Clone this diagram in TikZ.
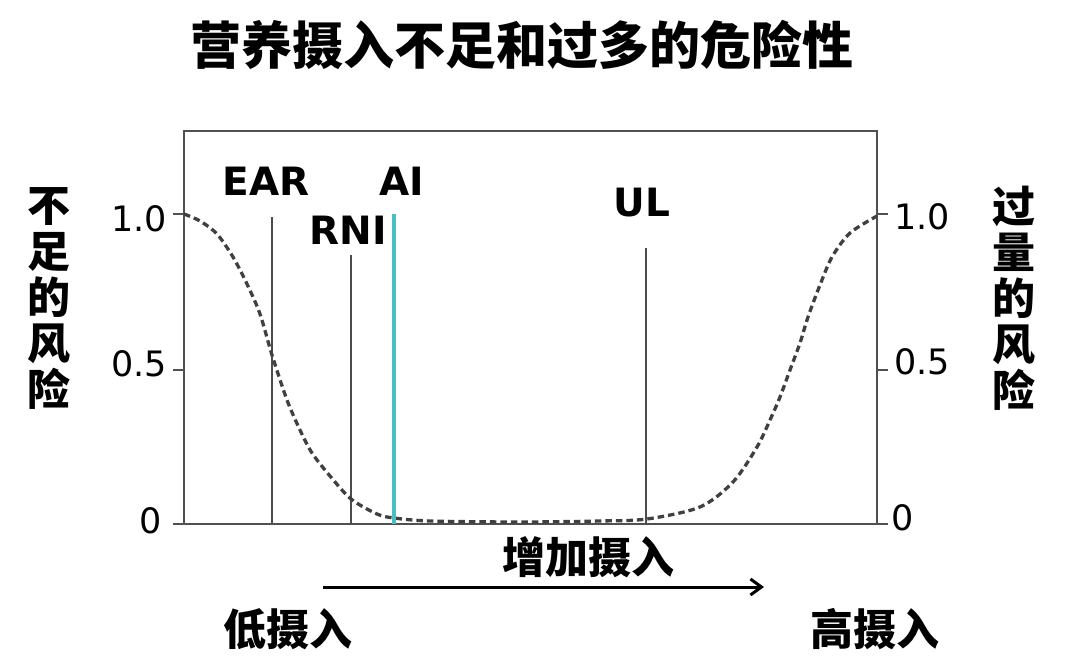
\documentclass[tikz,border=0pt]{standalone}
\usepackage{fontspec}
\setmainfont{DejaVu Sans}
\newfontfamily\cjk{Noto Sans CJK SC}
\usetikzlibrary{arrows.meta}
\definecolor{axisgray}{HTML}{505050}
\definecolor{aiteal}{HTML}{4BBFC0}
\tikzset{
  frame/.style={draw=axisgray, line width=2.6pt},
  tickline/.style={draw=axisgray, line width=2.6pt},
  marker/.style={draw=black!70, line width=2.5pt},
  riskcurve/.style={draw=black!75, line width=3.3pt, dash pattern=on 6.5pt off 4pt},
  ticklab/.style={inner sep=0pt, font=\fontsize{35}{35}\selectfont},
  marklab/.style={inner sep=0pt, font=\fontsize{39}{39}\selectfont\bfseries},
  cjklab/.style={inner sep=0pt, font=\fontsize{43}{43}\selectfont\cjk\bfseries},
  sidelab/.style={inner sep=0pt, align=center, font=\fontsize{43}{46}\selectfont\cjk\bfseries},
}
\begin{document}
\begin{tikzpicture}[x=1pt, y=-1pt]
\useasboundingbox (0,0) rectangle (1074,658);
\fill[white] (0,0) rectangle (1074,658);
% title
\node[inner sep=0pt, font=\fontsize{51}{51}\selectfont\cjk\bfseries] (title) at (522,45) {营养摄入不足和过多的危险性};
% frame
\draw[frame] (184,131) rectangle (877,524);
% ticks left
\draw[tickline] (173,214) -- (184,214);
\draw[tickline] (173,370) -- (184,370);
\draw[tickline] (173,524) -- (184,524);
% ticks right
\draw[tickline] (877,214) -- (888,214);
\draw[tickline] (877,370) -- (888,370);
\draw[tickline] (877,524) -- (888,524);
% tick labels
\node[ticklab] (l10) at (139,219) {1.0};
\node[ticklab] (l05) at (139,364) {0.5};
\node[ticklab] (l00) at (151,521) {0};
\node[ticklab] (r10) at (922,217) {1.0};
\node[ticklab] (r05) at (922,362) {0.5};
\node[ticklab] (r00) at (903,518) {0};
% side labels
\node[sidelab] (leftlab) at (49,298) {不\\足\\的\\风\\险};
\node[sidelab] (rightlab) at (1014,298) {过\\量\\的\\风\\险};
% marker lines
\coordinate (earT) at (272,217); \coordinate (earB) at (272,524);
\coordinate (rniT) at (351,255); \coordinate (rniB) at (351,524);
\coordinate (aiT) at (394,214); \coordinate (aiB) at (394,524);
\coordinate (ulT) at (646,248); \coordinate (ulB) at (646,524);
\draw[marker] (earT) -- (earB);
\draw[marker] (rniT) -- (rniB);
\draw[marker] (ulT) -- (ulB);
% risk curve
\draw[riskcurve] plot[smooth, tension=0.5] coordinates {
 (184,214) (200,221) (217,234) (233,257) (247,284) (260,314) (272,355) (287,400) (300,430) (312,453)
 (330,476) (351,499) (377,514) (394,518) (430,521) (520,522) (600,521) (647,519) (700,507)
 (733,482) (757,447) (770,420) (780,397) (790,370) (800,343) (808,317) (820,285) (832,257)
 (850,233) (877,216)};
\draw[aiteal, line width=3.3pt] (aiT) -- (aiB);
% marker labels
\node[marklab] (ear) at (266,181) {EAR};
\node[marklab] (rni) at (348,230) {RNI};
\node[marklab] (ai) at (402,181) {AI};
\node[marklab] (ul) at (642,203) {UL};
% bottom
\node[cjklab] (inc) at (588,557) {增加摄入};
\coordinate (arrL) at (323,587);
\coordinate (arrR) at (764,587);
\draw[line width=3pt, -{Straight Barb[length=11pt, width=16pt, line width=3pt]}] (arrL) -- (arrR);
\node[cjklab] (low) at (288,629) {低摄入};
\node[cjklab] (high) at (875,629) {高摄入};
\end{tikzpicture}
\end{document}
